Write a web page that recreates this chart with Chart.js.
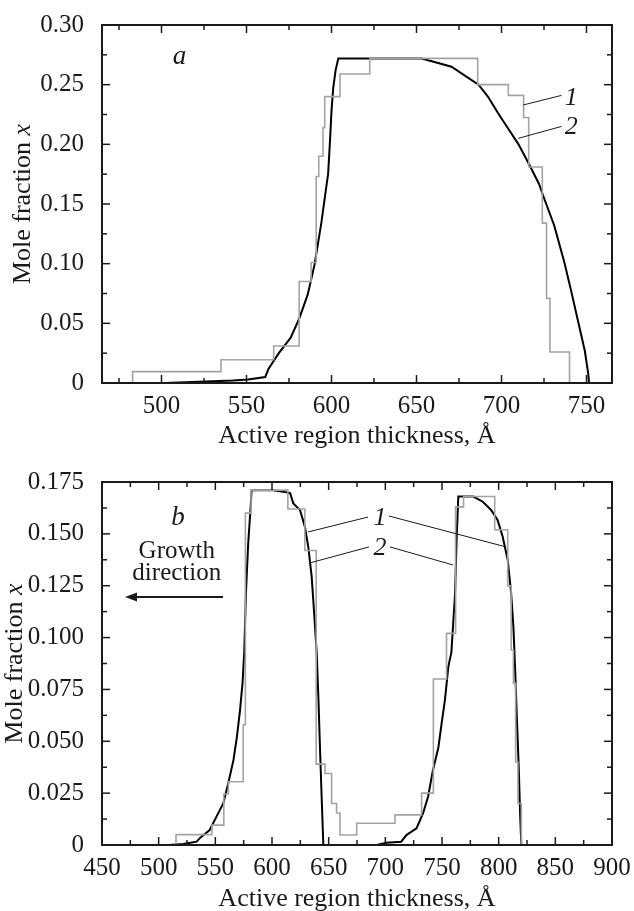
<!DOCTYPE html>
<html>
<head>
<meta charset="utf-8">
<script src="https://cdn.jsdelivr.net/npm/chart.js@4.4.1/dist/chart.umd.min.js"></script>
<style>
  html, body { margin: 0; padding: 0; background: #fff; }
  #wrap { position: relative; width: 634px; height: 911px; }
  canvas { position: absolute; left: 0; }
</style>
</head>
<body>
<div id="wrap">
  <canvas id="chartA" width="634" height="455" style="top:0"></canvas>
  <canvas id="chartB" width="634" height="456" style="top:455px"></canvas>
</div>
<script>
// Panel a: composition profile (1 = staircase, 2 = smooth)
const aBlackX = [502, 542, 551, 561, 563, 569, 576, 581, 586, 590, 594, 597, 598, 599, 600, 601, 602.4, 604, 653, 660.6,
    670.6, 678, 686.5, 692, 698, 704, 710, 716, 722, 725, 731, 737, 741, 745, 749, 751, 751.5];
const aBlackY = [0, 0.002, 0.003, 0.005, 0.012, 0.025, 0.038, 0.054, 0.074, 0.099, 0.134, 0.165, 0.175, 0.2, 0.228, 0.247, 0.262, 0.272, 0.272, 0.269,
    0.265, 0.258, 0.25, 0.24, 0.226, 0.213, 0.2, 0.184, 0.167, 0.155, 0.132, 0.101, 0.077, 0.052, 0.027, 0.008, 0];
const aGrayX = [483, 483, 535, 566, 581, 588, 591, 592.5, 595, 596, 605, 622.5, 686, 704, 713, 716, 724, 726.5, 728.5, 740];
const aGrayY = [0, 0.0095, 0.0195, 0.031, 0.085, 0.101, 0.173, 0.19, 0.214, 0.24, 0.259, 0.272, 0.25, 0.241, 0.2225, 0.181, 0.134, 0.071, 0.026, 0];
const aXTicks = [500, 550, 600, 650, 700, 750];
const aYTicks = [0, 0.05, 0.1, 0.15, 0.2, 0.25, 0.3];

// Panel b: two wells
const bBlackX = [508.5, 521.7, 533.5, 536.5, 545, 551, 557, 561.5, 566, 569, 571.8, 574, 575.5, 577, 579, 581, 582, 601, 613, 616,
    618.8, 624.7, 629, 632, 635, 637, 639.4, 641, 642.4, 643.9, 645.3, 670,
    692.4, 701, 714, 718.6, 727.5, 733.3, 737.7, 742, 746.8, 749.7, 752.6, 755.6, 758.3, 761.5, 763, 764.4, 777.6, 786, 793.3, 799,
    803.5, 808, 811, 813, 814, 815, 816, 817.7, 819, 820];
const bBlackY = [0, 0.0005, 0.0016, 0.0034, 0.0072, 0.0137, 0.02, 0.03, 0.041, 0.052, 0.065, 0.078, 0.093, 0.1215, 0.1455, 0.1616, 0.171, 0.171, 0.17, 0.1696,
    0.1647, 0.1615, 0.1535, 0.1438, 0.1294, 0.1133, 0.093, 0.07, 0.0458, 0.0217, 0, null,
    0, 0.0011, 0.0016, 0.0048, 0.008, 0.0153, 0.0233, 0.036, 0.047, 0.0587, 0.07, 0.086, 0.093, 0.121, 0.149, 0.168, 0.168, 0.1655, 0.1615, 0.1567,
    0.1487, 0.1374, 0.1214, 0.1052, 0.092, 0.078, 0.062, 0.0377, 0.0137, 0];
const bGrayX = [515.3, 515.3, 547, 557.5, 561.5, 574.6, 576.5, 581.5, 614, 629, 639, 646.8, 652.6, 657, 660, 674.7, 708.5, 732, 742.4, 754,
    762, 769, 796.5, 808, 811, 813, 815, 817, 820];
const bGrayY = [0, 0.005, 0.0096, 0.0246, 0.0305, 0.058, 0.16, 0.1711, 0.162, 0.142, 0.039, 0.0345, 0.02, 0.0154, 0.0048, 0.0105, 0.0145, 0.025, 0.08, 0.102,
    0.163, 0.168, 0.152, 0.125, 0.094, 0.078, 0.04, 0.02, 0];
const bXTicks = [450, 500, 550, 600, 650, 700, 750, 800, 850, 900];
const bYTicks = [0, 0.025, 0.05, 0.075, 0.1, 0.125, 0.15, 0.175];

const SERIF = '"Liberation Serif", "Times New Roman", Times, serif';
const INK = '#1a1a1a';
const GRAY = '#a3a3a3';

function toPoints(xs, ys) {
    return xs.map((x, i) => ({ x: x, y: ys[i] }));
}

// Inward ticks on all four sides, full frame, titles and labels
function framePlugin(cfg) {
    return {
        id: 'frame',
        afterDraw(chart) {
            const ctx = chart.ctx;
            const a = chart.chartArea;
            const xs = chart.scales.x, ys = chart.scales.y;
            const line = (x1, y1, x2, y2) => {
                ctx.beginPath(); ctx.moveTo(x1, y1); ctx.lineTo(x2, y2); ctx.stroke();
            };
            ctx.save();
            ctx.strokeStyle = INK;
            ctx.lineWidth = 1.5;
            for (let v = Math.ceil(xs.min / cfg.xMinor) * cfg.xMinor; v <= xs.max + 1e-9; v += cfg.xMinor) {
                const len = cfg.xTicks.includes(v) ? 8 : 5;
                const px = xs.getPixelForValue(v);
                line(px, a.bottom, px, a.bottom - len);
                line(px, a.top, px, a.top + len);
            }
            const nY = Math.round((ys.max - ys.min) / cfg.yMinor);
            for (let i = 0; i <= nY; i++) {
                const v = ys.min + i * cfg.yMinor;
                const major = cfg.yTicks.some(t => Math.abs(t - v) < 1e-9);
                const len = major ? 8 : 5;
                const py = ys.getPixelForValue(v);
                line(a.left, py, a.left + len, py);
                line(a.right, py, a.right - len, py);
            }
            ctx.lineWidth = 2;
            ctx.strokeRect(a.left, a.top, a.right - a.left, a.bottom - a.top);

            ctx.fillStyle = INK;
            // y title: "Mole fraction x" with italic x
            ctx.save();
            ctx.translate(cfg.yTitleX, (a.top + a.bottom) / 2);
            ctx.rotate(-Math.PI / 2);
            ctx.textBaseline = 'middle';
            ctx.textAlign = 'left';
            ctx.font = '26px ' + SERIF;
            const w1 = ctx.measureText('Mole fraction ').width;
            ctx.font = 'italic 26px ' + SERIF;
            const w2 = ctx.measureText('x').width;
            const s = -(w1 + w2) / 2;
            ctx.font = '26px ' + SERIF;
            ctx.fillText('Mole fraction ', s, 0);
            ctx.font = 'italic 26px ' + SERIF;
            ctx.fillText('x', s + w1, 0);
            ctx.restore();

            // x title
            ctx.font = '26px ' + SERIF;
            ctx.textAlign = 'center';
            ctx.textBaseline = 'middle';
            ctx.fillText('Active region thickness, Å', (a.left + a.right) / 2, cfg.xTitleY);

            // labels and leader lines
            ctx.lineWidth = 1;
            cfg.leaders.forEach(l => {
                line(xs.getPixelForValue(l[0]), ys.getPixelForValue(l[1]),
                     xs.getPixelForValue(l[2]), ys.getPixelForValue(l[3]));
            });
            cfg.notes.forEach(n => {
                ctx.font = (n.italic ? 'italic ' : '') + n.size + 'px ' + SERIF;
                ctx.fillText(n.text, xs.getPixelForValue(n.x), ys.getPixelForValue(n.y));
            });
            if (cfg.arrow) {
                const ar = cfg.arrow;
                const x1 = xs.getPixelForValue(ar[0]), x2 = xs.getPixelForValue(ar[1]);
                const py = ys.getPixelForValue(ar[2]);
                ctx.lineWidth = 2;
                line(x1, py, x2 + 8, py);
                ctx.beginPath();
                ctx.moveTo(x2, py);
                ctx.lineTo(x2 + 12, py - 4.5);
                ctx.lineTo(x2 + 12, py + 4.5);
                ctx.closePath();
                ctx.fill();
            }
            ctx.restore();
        }
    };
}

function makePanel(id, cfg) {
    const canvas = document.getElementById(id);
    return new Chart(canvas.getContext('2d'), {
        type: 'line',
        data: {
            datasets: [
                {
                    label: '1',
                    data: toPoints(cfg.grayX, cfg.grayY),
                    borderColor: GRAY,
                    borderWidth: 1.6,
                    stepped: true,
                    pointRadius: 0,
                    fill: false
                },
                {
                    label: '2',
                    data: toPoints(cfg.blackX, cfg.blackY),
                    borderColor: '#000',
                    borderWidth: 2,
                    tension: 0,
                    pointRadius: 0,
                    spanGaps: false,
                    fill: false
                }
            ]
        },
        options: {
            responsive: false,
            animation: false,
            devicePixelRatio: 1,
            layout: { padding: { top: cfg.area.top, right: canvas.width - cfg.area.right, left: 0, bottom: 0 } },
            plugins: { legend: { display: false }, tooltip: { enabled: false } },
            scales: {
                x: {
                    type: 'linear',
                    min: cfg.xMin,
                    max: cfg.xMax,
                    grid: { display: false },
                    border: { display: false },
                    afterBuildTicks: s => { s.ticks = cfg.xTicks.map(v => ({ value: v })); },
                    afterFit: s => { s.height = canvas.height - cfg.area.bottom; },
                    ticks: {
                        autoSkip: false,
                        maxRotation: 0,
                        padding: 0,
                        color: INK,
                        font: { family: SERIF, size: 25 },
                        callback: v => String(v)
                    }
                },
                y: {
                    type: 'linear',
                    min: cfg.yMin,
                    max: cfg.yMax,
                    grid: { display: false },
                    border: { display: false },
                    afterBuildTicks: s => { s.ticks = cfg.yTicks.map(v => ({ value: v })); },
                    afterFit: s => { s.width = cfg.area.left; },
                    ticks: {
                        autoSkip: false,
                        padding: 10,
                        color: INK,
                        font: { family: SERIF, size: 25 },
                        callback: v => (v === 0 ? '0' : v.toFixed(cfg.yDigits))
                    }
                }
            }
        },
        plugins: [framePlugin(cfg)]
    });
}

makePanel('chartA', {
    grayX: aGrayX, grayY: aGrayY, blackX: aBlackX, blackY: aBlackY,
    xMin: 465, xMax: 765, yMin: 0, yMax: 0.3,
    xTicks: aXTicks, yTicks: aYTicks, xMinor: 25, yMinor: 0.025, yDigits: 2,
    area: { left: 102, right: 612, top: 19, bottom: 383 },
    yTitleX: 23, xTitleY: 436,
    notes: [
        { text: 'a', x: 510.6, y: 0.273, italic: true, size: 27 },
        { text: '1', x: 741, y: 0.239, italic: true, size: 26 },
        { text: '2', x: 741, y: 0.214, italic: true, size: 26 }
    ],
    leaders: [
        [712.8, 0.233, 735.3, 0.241],
        [709.8, 0.205, 735.3, 0.215]
    ]
});

makePanel('chartB', {
    grayX: bGrayX, grayY: bGrayY, blackX: bBlackX, blackY: bBlackY,
    xMin: 450, xMax: 900, yMin: 0, yMax: 0.175,
    xTicks: bXTicks, yTicks: bYTicks, xMinor: 25, yMinor: 0.0125, yDigits: 3,
    area: { left: 102, right: 612, top: 27, bottom: 390 },
    yTitleX: 15, xTitleY: 444,
    notes: [
        { text: 'b', x: 517, y: 0.1577, italic: true, size: 27 },
        { text: 'Growth', x: 516, y: 0.1413, italic: false, size: 25 },
        { text: 'direction', x: 516, y: 0.1307, italic: false, size: 25 },
        { text: '1', x: 695.3, y: 0.1577, italic: true, size: 26 },
        { text: '2', x: 695.3, y: 0.1432, italic: true, size: 26 }
    ],
    leaders: [
        [631.8, 0.1509, 684.7, 0.1581],
        [703.2, 0.1586, 806.5, 0.1437],
        [633.5, 0.136, 685.6, 0.1437],
        [704.1, 0.1437, 759.7, 0.135]
    ],
    arrow: [556.8, 470.3, 0.1196]
});
</script>
</body>
</html>
